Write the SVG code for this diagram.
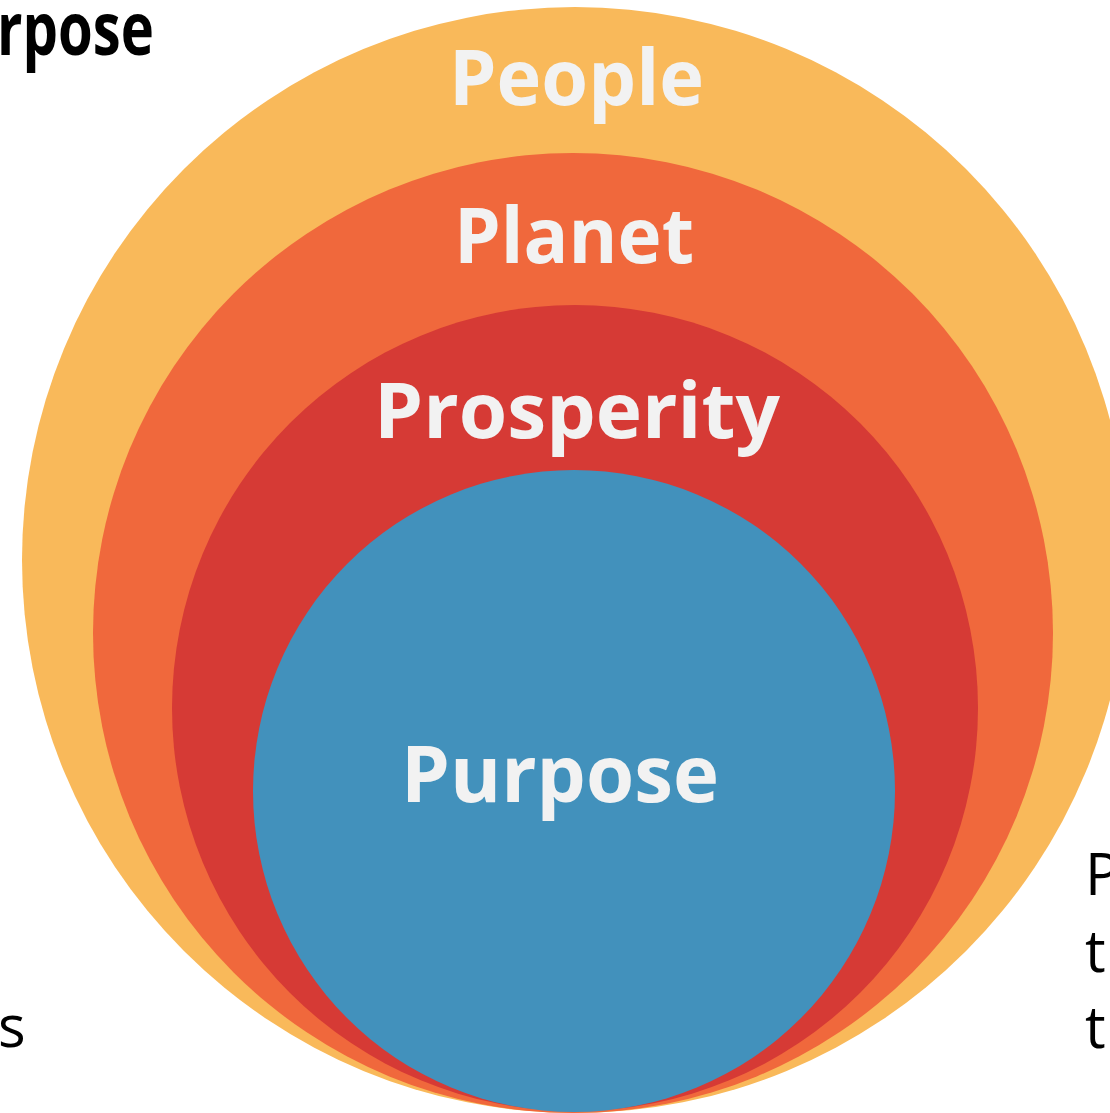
<svg xmlns="http://www.w3.org/2000/svg" width="1110" height="1113" viewBox="0 0 1110 1113">
<style>
.lbl{font-family:"Open Sans","Noto Sans","DejaVu Sans",sans-serif;font-weight:700;fill:#F2F2F2;}
.side{font-family:"Open Sans","Noto Sans","DejaVu Sans",sans-serif;fill:#000;font-size:58px;}
</style>
<rect width="1110" height="1113" fill="#FFFFFF"/>
<g id="people">
<circle cx="575" cy="560" r="553" fill="#F9B95A"/>
<text class="lbl" x="449" y="105" font-size="77" textLength="255" lengthAdjust="spacingAndGlyphs">People</text>
</g>
<g id="planet">
<circle cx="573" cy="633" r="480" fill="#F0683C"/>
<text class="lbl" x="454" y="263" font-size="77" textLength="240" lengthAdjust="spacingAndGlyphs">Planet</text>
</g>
<g id="prosperity">
<circle cx="575" cy="708" r="403" fill="#D63A35"/>
<text class="lbl" x="374" y="438" font-size="77" textLength="406" lengthAdjust="spacingAndGlyphs">Prosperity</text>
</g>
<g id="purpose">
<circle cx="574" cy="791" r="321" fill="#4291BC"/>
<text class="lbl" x="401" y="802" font-size="79" textLength="318" lengthAdjust="spacingAndGlyphs">Purpose</text>
</g>
<g id="connectors"></g>
<g id="side-text">
<text x="-3" y="55" font-family="'Open Sans','Noto Sans',sans-serif" font-weight="700" font-size="73" fill="#000" textLength="157" lengthAdjust="spacingAndGlyphs">rpose</text>
<text class="side" x="1085" y="895">P</text>
<text class="side" x="1085" y="972">tl</text>
<text class="side" x="1085" y="1048">tl</text>
<text class="side" x="-2" y="1047">s</text>
</g>
</svg>
